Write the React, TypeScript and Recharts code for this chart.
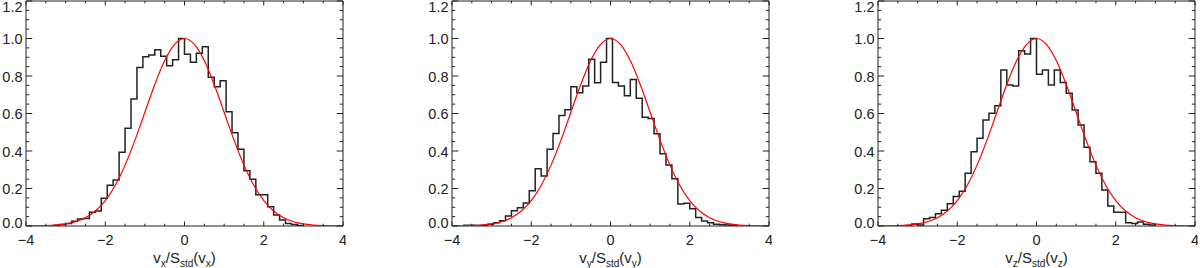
import { ComposedChart, Line, XAxis, YAxis, ReferenceArea } from 'recharts';

// histogram bins (normalised so the peak bin is 1.0)
const BIN_WIDTH = 0.15;

const VX_START = -3.3;
const VX_COUNTS = [
  0.004, 0.008, 0.014, 0.025, 0.037, 0.04, 0.073, 0.08, 0.148, 0.217, 0.245,
  0.393, 0.522, 0.678, 0.846, 0.903, 0.912, 0.94, 0.905, 0.855, 0.887, 1.0,
  0.916, 0.873, 0.921, 0.956, 0.793, 0.743, 0.775, 0.61, 0.498, 0.409, 0.295,
  0.25, 0.167, 0.167, 0.103, 0.059, 0.032, 0.014, 0.008, 0.003,
];

const VY_START = -3.7;
const VY_COUNTS = [
  0.004, 0.004, 0.003, 0.004, 0.009, 0.018, 0.028, 0.053, 0.082, 0.098, 0.123,
  0.188, 0.306, 0.267, 0.409, 0.494, 0.59, 0.62, 0.743, 0.711, 0.747, 0.889,
  0.764, 0.873, 1.0, 0.766, 0.747, 0.695, 0.782, 0.681, 0.58, 0.574, 0.492,
  0.386, 0.325, 0.252, 0.117, 0.121, 0.092, 0.046, 0.027, 0.018, 0.01, 0.007,
  0.005, 0.002,
];

const VZ_START = -3.3;
const VZ_COUNTS = [
  0.003, 0.011, 0.005, 0.039, 0.046, 0.066, 0.084, 0.119, 0.158, 0.185, 0.281,
  0.396, 0.468, 0.565, 0.601, 0.642, 0.832, 0.752, 0.747, 0.935, 0.917, 1.0,
  0.809, 0.832, 0.752, 0.832, 0.766, 0.708, 0.619, 0.539, 0.42, 0.343, 0.281,
  0.192, 0.107, 0.073, 0.073, 0.018, 0.014, 0.021, 0.009, 0.005,
];

// red reference curve
const CURVE_X = [
  -4, -3.75, -3.5, -3.25, -3, -2.75, -2.5, -2.25, -2, -1.75, -1.5, -1.25, -1,
  -0.75, -0.5, -0.25, 0, 0.25, 0.5, 0.75, 1, 1.25, 1.5, 1.75, 2, 2.25, 2.5,
  2.75, 3, 3.25, 3.5, 3.75, 4,
];
const CURVE_Y = [
  0.0003, 0.0009, 0.0022, 0.0051, 0.0111, 0.0228, 0.0439, 0.0796, 0.1353,
  0.2163, 0.3247, 0.4578, 0.6065, 0.7548, 0.8825, 0.969, 1.0, 0.969, 0.8825,
  0.7548, 0.6065, 0.4578, 0.3247, 0.2163, 0.1353, 0.0796, 0.0439, 0.0228,
  0.0111, 0.0051, 0.0022, 0.0009, 0.0003,
];

const X_MAJOR = [-4, -2, 0, 2, 4];
const X_TICKS = [-4, -3.5, -3, -2.5, -2, -1.5, -1, -0.5, 0, 0.5, 1, 1.5, 2, 2.5, 3, 3.5, 4];
const Y_MAJOR = [0, 0.2, 0.4, 0.6, 0.8, 1.0, 1.2];
const Y_TICKS = Array.from({ length: 25 }, (_, i) => Math.round(i * 5) / 100);

const PANELS = [
  { start: VX_START, counts: VX_COUNTS, sub: 'x' },
  { start: VY_START, counts: VY_COUNTS, sub: 'y' },
  { start: VZ_START, counts: VZ_COUNTS, sub: 'z' },
];

const INK = '#222';
const PLOT_W = 317;
const PLOT_H = 225;
const FONT = '"Liberation Sans", Arial, Helvetica, sans-serif';
const TICK_FONT = 14.5;

const curveData = CURVE_X.map((x, i) => ({ x, y: CURVE_Y[i] }));

function histData(start: number, counts: number[]) {
  const edge = (i: number) => Number((start + i * BIN_WIDTH).toFixed(3));
  const pts = [{ x: edge(0), y: 0 }];
  counts.forEach((v, i) => pts.push({ x: edge(i), y: v }));
  pts.push({ x: edge(counts.length), y: counts[counts.length - 1] });
  pts.push({ x: edge(counts.length), y: 0 });
  return pts;
}

const isMajor = (list: number[], v: number) => list.some((m) => Math.abs(m - v) < 1e-6);

function XTick({ x, y, payload }: any) {
  const v = payload.value;
  const major = isMajor(X_MAJOR, v);
  const len = major ? 4.5 : 2.3;
  return (
    <g>
      <line x1={x} x2={x} y1={y} y2={y - len} stroke={INK} />
      <line x1={x} x2={x} y1={y - PLOT_H} y2={y - PLOT_H + len} stroke={INK} />
      {major && (
        <text x={x} y={y + 19} textAnchor="middle" fontSize={TICK_FONT} fill={INK} fontFamily={FONT}>
          {v < 0 ? `\u2212${Math.abs(v)}` : `${v}`}
        </text>
      )}
    </g>
  );
}

function YTick({ x, y, payload }: any) {
  const v = payload.value;
  const major = isMajor(Y_MAJOR, v);
  const len = major ? 6.3 : 3.2;
  // end labels sit a little inside the frame, as in the original
  const shift = v > 1.19 ? 6 : v < 0.01 ? -3 : 0.5;
  return (
    <g>
      <line x1={x} x2={x + len} y1={y} y2={y} stroke={INK} />
      <line x1={x + PLOT_W} x2={x + PLOT_W - len} y1={y} y2={y} stroke={INK} />
      {major && (
        <text x={x - 3.5} y={y + shift} dy="0.36em" textAnchor="end" fontSize={TICK_FONT} fill={INK} fontFamily={FONT}>
          {v.toFixed(1)}
        </text>
      )}
    </g>
  );
}

function AxisTitle({ viewBox, sub }: any) {
  const cx = viewBox.x + viewBox.width / 2;
  const by = viewBox.y + 37;
  return (
    <text x={cx} y={by} textAnchor="middle" fontSize={15} fill={INK} fontFamily={FONT}>
      <tspan>v</tspan>
      <tspan fontSize={10} dy={4}>{sub}</tspan>
      <tspan dy={-4}>/S</tspan>
      <tspan fontSize={10} dy={4}>std</tspan>
      <tspan dy={-4}>(v</tspan>
      <tspan fontSize={10} dy={4}>{sub}</tspan>
      <tspan dy={-4}>)</tspan>
    </text>
  );
}

function Panel({ start, counts, sub }: { start: number; counts: number[]; sub: string }) {
  return (
    <ComposedChart width={346} height={268} margin={{ top: 1, right: 3, bottom: 41, left: 25 }}>
      <XAxis
        type="number"
        dataKey="x"
        domain={[-4, 4]}
        ticks={X_TICKS}
        interval={0}
        allowDataOverflow
        height={1}
        tickSize={0}
        tickMargin={0}
        axisLine={false}
        tickLine={false}
        tick={<XTick />}
        label={<AxisTitle sub={sub} />}
      />
      <YAxis
        type="number"
        domain={[0, 1.2]}
        ticks={Y_TICKS}
        interval={0}
        allowDataOverflow
        width={1}
        tickSize={0}
        tickMargin={0}
        axisLine={false}
        tickLine={false}
        tick={<YTick />}
      />
      <ReferenceArea x1={-4} x2={4} y1={0} y2={1.2} fill="none" stroke={INK} strokeWidth={1} />
      <Line
        data={histData(start, counts)}
        dataKey="y"
        type="stepAfter"
        stroke={INK}
        strokeWidth={1.5}
        dot={false}
        isAnimationActive={false}
      />
      <Line
        data={curveData}
        dataKey="y"
        type="monotone"
        stroke="#ff0000"
        strokeWidth={1.2}
        dot={false}
        isAnimationActive={false}
      />
    </ComposedChart>
  );
}

export default function App() {
  return (
    <div
      style={{
        position: 'absolute',
        left: 0,
        top: 0,
        width: 1200,
        height: 268,
        background: '#fff',
        overflow: 'hidden',
      }}
    >
      {PANELS.map((p, i) => (
        <div key={p.sub} style={{ position: 'absolute', left: i * 426, top: 0 }}>
          <Panel start={p.start} counts={p.counts} sub={p.sub} />
        </div>
      ))}
    </div>
  );
}
